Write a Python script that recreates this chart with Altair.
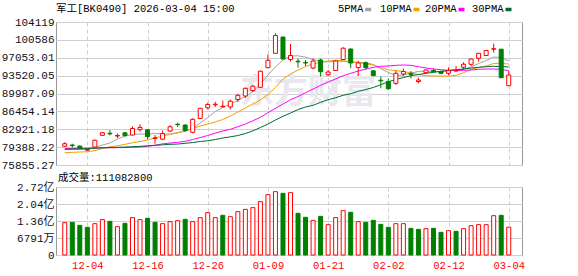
import altair as alt
import pandas as pd

dates = ["12-01", "12-02", "12-03", "12-04", "12-05", "12-08", "12-09", "12-10", "12-11", "12-12",
         "12-15", "12-16", "12-17", "12-18", "12-19", "12-22", "12-23", "12-24", "12-25", "12-26",
         "12-29", "12-30", "12-31", "01-05", "01-06", "01-07", "01-08", "01-09", "01-12", "01-13",
         "01-14", "01-15", "01-16", "01-19", "01-20", "01-21", "01-22", "01-23", "01-26", "01-27",
         "01-28", "01-29", "01-30", "02-02", "02-03", "02-04", "02-05", "02-06", "02-09", "02-10",
         "02-11", "02-12", "02-13", "02-24", "02-25", "02-26", "02-27", "03-02", "03-03", "03-04"]

opens = [79564, 79801, 79604, 78773, 79406, 81719, 82134, 81581, 82213, 81778,
         82846, 82807, 81106, 80948, 82569, 83914, 83755, 82312, 85041, 87156,
         87749, 87354, 87314, 88797, 89489, 90576, 91209, 95084, 97931, 101153,
         96705, 96369, 96132, 95024, 96606, 93680, 94530, 96705, 98781, 95123,
         96072, 94471, 92612, 92355, 92000, 93838, 93898, 92355, 94095, 94530,
         94332, 93977, 94431, 95183, 95756, 96942, 97496, 98721, 98741, 91525]
highs = [80355, 80059, 79663, 79110, 80889, 82411, 82767, 82075, 82411, 83518,
         83914, 82965, 81778, 82668, 83716, 84190, 83953, 85080, 87156, 88164,
         88362, 88599, 88797, 89923, 91169, 91663, 94530, 97693, 101885, 101193,
         99769, 96903, 96606, 96903, 96903, 94629, 96606, 99137, 98880, 96408,
         96309, 94629, 93344, 92949, 94530, 94926, 94431, 93107, 94728, 94926,
         94392, 95123, 95420, 96151, 96903, 97990, 98524, 99829, 98781, 94431]
lows = [79406, 79268, 78912, 78615, 79208, 81620, 81719, 81185, 81482, 81680,
        82411, 80928, 80098, 80790, 82372, 83360, 82431, 82115, 84981, 86859,
        87314, 87215, 86820, 88303, 89093, 90280, 91169, 95024, 97891, 96764,
        96309, 95123, 95420, 94767, 93344, 93443, 94431, 96606, 94965, 93443,
        94728, 93443, 91011, 90675, 91663, 93443, 92949, 92000, 94036, 94174,
        93878, 93640, 94293, 94629, 95420, 96270, 97436, 98049, 93087, 91505]
closes = [80059, 79683, 79208, 78932, 80750, 82233, 82016, 81699, 81660, 83064,
          83281, 81462, 81225, 82075, 83400, 83835, 82648, 84882, 87057, 87808,
          87868, 87472, 88461, 89627, 91011, 91426, 94392, 96547, 101450, 96804,
          97496, 96250, 96013, 96408, 94293, 94234, 96408, 98939, 96013, 96013,
          95123, 93502, 92494, 90932, 93977, 94332, 93779, 92652, 94629, 94273,
          93937, 94491, 94570, 95776, 96804, 97931, 98484, 98840, 93107, 93640]

volumes = [129200000, 130500000, 118500000, 110500000, 125200000, 141200000, 134500000, 113200000, 126500000, 149200000,
           141200000, 146500000, 130500000, 125200000, 133200000, 137200000, 142500000, 133200000, 149200000, 169100000,
           149200000, 158500000, 153100000, 173100000, 182400000, 189100000, 213100000, 241000000, 253000000, 246400000,
           249000000, 166500000, 150500000, 138500000, 154500000, 121200000, 149200000, 177100000, 170500000, 133200000,
           130500000, 138500000, 122500000, 110500000, 125200000, 125200000, 106500000, 102500000, 105200000, 106500000,
           90600000, 97200000, 94600000, 105200000, 117200000, 121200000, 121200000, 157100000, 158500000, 111082800]
vol_up = [1, 0, 0, 0, 1, 1, 0, 1, 0, 1,
          1, 0, 0, 1, 1, 1, 0, 1, 1, 1,
          1, 0, 1, 1, 1, 1, 1, 1, 1, 0,
          1, 0, 0, 1, 0, 1, 1, 1, 0, 1,
          0, 0, 0, 0, 1, 1, 0, 0, 1, 0,
          0, 1, 0, 1, 1, 1, 1, 1, 0, 1]

ma5 = [78912, 78912, 78912, 78951, 79307, 79801, 80197, 80988, 81581, 81877,
       81976, 81976, 82075, 81976, 81976, 82174, 82569, 83064, 84151, 85238,
       86424, 87215, 87907, 88599, 89390, 90339, 91861, 93640, 95222, 96606,
       97397, 97436, 97160, 96705, 96309, 96211, 96369, 96349, 96211, 96151,
       96072, 95716, 94886, 94135, 93542, 93640, 94036, 94332, 94431, 94332,
       94332, 94431, 94629, 94827, 95222, 95914, 96507, 97199, 97100, 96408]
ma10 = [78279, 78358, 78418, 78477, 78714, 79110, 79446, 79663, 79940, 80256,
        80493, 80790, 81225, 81581, 81917, 82273, 82569, 83064, 83558, 83953,
        84349, 84843, 85535, 86326, 87116, 87907, 88698, 89785, 91169, 92850,
        93838, 94629, 95321, 95815, 96151, 96408, 96567, 96468, 96270, 96072,
        95875, 95617, 95123, 94669, 94530, 94332, 94036, 93739, 93502, 93443,
        93443, 93443, 93581, 94095, 94767, 95123, 95420, 95914, 95954, 95815]
ma20 = [79110, 79110, 79149, 79169, 79208, 79248, 79268, 79287, 79307, 79347,
        79406, 79545, 79762, 80039, 80197, 80335, 80533, 80889, 81284, 81680,
        82174, 82569, 82905, 83420, 83953, 84606, 85278, 86187, 87057, 87907,
        88758, 89390, 90141, 90873, 91604, 92257, 92850, 93502, 93977, 94431,
        94827, 95163, 95360, 95420, 95558, 95617, 95558, 95282, 95024, 94827,
        94688, 94570, 94491, 94570, 94629, 94767, 94827, 94827, 94767, 94491]
ma30 = [78951, 79011, 79050, 79110, 79169, 79248, 79307, 79347, 79406, 79466,
        79545, 79643, 79742, 79841, 79940, 79999, 80138, 80296, 80494, 80652,
        80889, 81185, 81423, 81680, 82075, 82609, 83261, 83953, 84744, 85475,
        86128, 86820, 87314, 87650, 88243, 88758, 89153, 89627, 89944, 90418,
        90774, 91169, 91723, 92316, 92751, 93146, 93502, 93739, 93977, 94174,
        94372, 94570, 94688, 94827, 95024, 95163, 95282, 95360, 95321, 95222]

ma_names = ["5PMA", "10PMA", "20PMA", "30PMA"]
ma_colors = ["#a3a3a3", "#f2a100", "#ff00ff", "#006a33"]

price_ticks = [75855.27, 79388.22, 82921.18, 86454.14, 89987.09, 93520.05, 97053.01, 100586, 104119]
vol_ticks = [0, 67910000, 135820000, 203730000, 271640000]
date_tick_idx = [3, 11, 19, 27, 35, 43, 51, 59]

title_text = "军工[BK0490] 2026-03-04 15:00"
watermark = "东方财富"

RED = "#ff0000"
GREEN = "#008000"
FONT = "Liberation Mono, Noto Sans CJK SC"
GRID = "#d0d0d0"

idx = list(range(len(dates)))
candles = pd.DataFrame({"i": idx, "date": dates, "open": opens, "high": highs,
                        "low": lows, "close": closes})
vol_df = pd.DataFrame({"i": idx, "vol": volumes, "up": vol_up})
ma_df = pd.concat([pd.DataFrame({"i": idx, "v": vals, "s": name})
                   for name, vals in zip(ma_names, [ma5, ma10, ma20, ma30])], ignore_index=True)

x_scale = alt.Scale(domain=[-0.5, 60.1], nice=False, zero=False)
date_expr = "[" + ",".join("'%s'" % d for d in dates) + "][datum.value]"

x_top = alt.X("i:Q", scale=x_scale,
              axis=alt.Axis(values=date_tick_idx, labels=False, ticks=False, domain=False,
                            grid=True, gridColor=GRID, gridDash=[4, 3], title=None))
y_scale = alt.Scale(domain=[price_ticks[0], price_ticks[-1]], nice=False, zero=False)
y_axis = alt.Axis(values=price_ticks, ticks=False, domain=False, grid=True, gridColor=GRID,
                  labelFont=FONT, labelFontSize=11, labelColor="#111122", labelPadding=2,
                  title=None,
                  labelExpr="datum.value >= 100000 ? format(datum.value, 'd') : format(datum.value, '.2f')")

is_up = alt.datum.close >= alt.datum.open

wm = alt.Chart(pd.DataFrame({"t": [watermark]})).mark_text(
    font="Noto Sans CJK SC", fontSize=34, fontWeight="bold", color="#e8e8ee",
    align="left", baseline="middle").encode(x=alt.value(184), y=alt.value(71), text="t:N")

lines = alt.Chart(ma_df).mark_line(strokeWidth=1).encode(
    x=x_top,
    y=alt.Y("v:Q", scale=y_scale, axis=y_axis),
    color=alt.Color("s:N", scale=alt.Scale(domain=ma_names, range=ma_colors), legend=None),
)

wicks = alt.Chart(candles).mark_rule(strokeWidth=1).encode(
    x=x_top,
    y=alt.Y("low:Q", scale=y_scale, axis=y_axis),
    y2="high:Q",
    color=alt.condition(is_up, alt.value(RED), alt.value(GREEN)),
)

bodies = alt.Chart(candles).mark_bar(size=4, strokeWidth=1).encode(
    x=x_top,
    y=alt.Y("open:Q", scale=y_scale, axis=y_axis),
    y2="close:Q",
    fill=alt.condition(is_up, alt.value("white"), alt.value(GREEN)),
    stroke=alt.condition(is_up, alt.value(RED), alt.value(GREEN)),
)

title_mark = alt.Chart(pd.DataFrame({"t": [title_text]})).mark_text(
    font=FONT, fontSize=10.5, color="#000000", align="left", baseline="middle").encode(
    x=alt.value(0), y=alt.value(-13), text="t:N")

legend_layers = []
legend_pos = [282, 324, 369, 416]
for name, col, px in zip(ma_names, ma_colors, legend_pos):
    lbl = alt.Chart(pd.DataFrame({"t": [name]})).mark_text(
        font=FONT, fontSize=10.5, color="#000000", align="left", baseline="middle").encode(
        x=alt.value(px), y=alt.value(-13), text="t:N")
    sw_x = px + 6.3 * len(name) + 2
    sw = alt.Chart(pd.DataFrame({"t": [name]})).mark_rule(strokeWidth=3.5, color=col).encode(
        x=alt.value(sw_x), x2=alt.value(sw_x + 6), y=alt.value(-12.5))
    legend_layers += [lbl, sw]

top = alt.layer(wm, lines, wicks, bodies, title_mark, *legend_layers).properties(width=466, height=143)

x_bot = alt.X("i:Q", scale=x_scale,
              axis=alt.Axis(values=date_tick_idx, labelExpr=date_expr, labelColor=RED,
                            labelFont=FONT, labelFontSize=10.5, labelPadding=5, ticks=False,
                            domain=False, grid=True, gridColor=GRID, gridDash=[4, 3],
                            labelOverlap=False, labelFlush=False, title=None))
vol_axis = alt.Axis(values=vol_ticks, ticks=False, domain=False, grid=True, gridColor=GRID,
                    labelFont=FONT, labelFontSize=11, labelColor="#111122", labelPadding=2,
                    title=None,
                    labelExpr="datum.value == 0 ? '0' : (datum.value < 100000000 ? format(datum.value / 10000, 'd') + '万' : format(datum.value / 100000000, '.2f') + '亿')")
vol_up_test = alt.datum.up == 1

vbars = alt.Chart(vol_df).mark_bar(size=4, strokeWidth=1).encode(
    x=x_bot,
    y=alt.Y("vol:Q", scale=alt.Scale(domain=[0, vol_ticks[-1]], nice=False), axis=vol_axis),
    fill=alt.condition(vol_up_test, alt.value("white"), alt.value(GREEN)),
    stroke=alt.condition(vol_up_test, alt.value(RED), alt.value(GREEN)),
)

vol_label = alt.Chart(pd.DataFrame({"t": ["成交量:%d" % volumes[-1]]})).mark_text(
    font=FONT, fontSize=10.5, color="#000000", align="left", baseline="middle").encode(
    x=alt.value(2), y=alt.value(-9), text="t:N")

bottom = alt.layer(vbars, vol_label).properties(width=466, height=68)

chart = alt.vconcat(top, bottom, spacing=22, bounds="flush").properties(
    padding={"left": 0, "top": 3, "right": 4, "bottom": 2},
    background="white",
).configure_view(stroke="#999999", strokeWidth=1)

chart.save("out.html", embed_options={"renderer": "svg", "actions": False})
